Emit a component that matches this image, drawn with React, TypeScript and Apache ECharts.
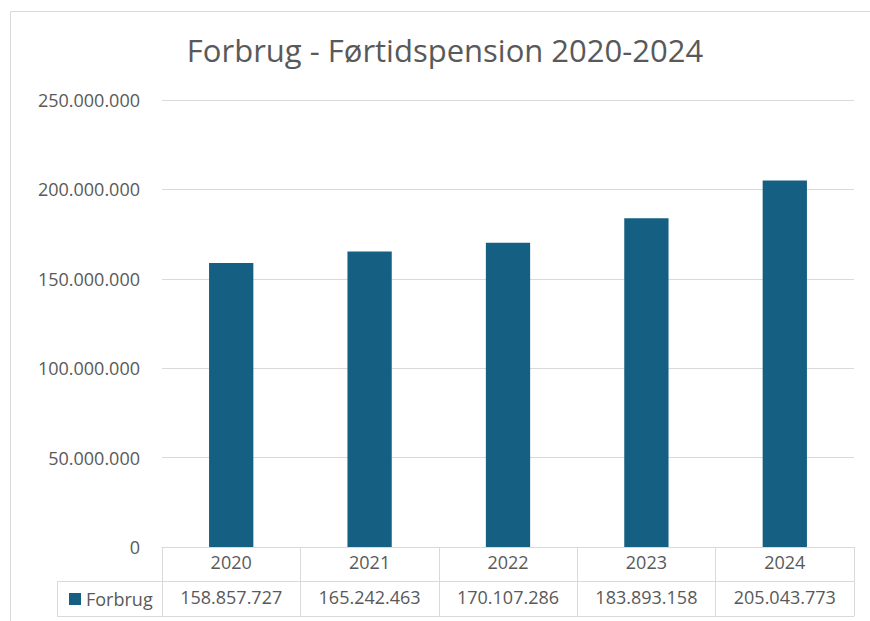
import React, { useEffect, useRef } from "react";
import * as echarts from "echarts";

const titleText = "Forbrug - Førtidspension 2020-2024";
const seriesName = "Forbrug";
const years = ["2020", "2021", "2022", "2023", "2024"];
const values = [158857727, 165242463, 170107286, 183893158, 205043773];
const yMin = 0;
const yMax = 250000000;
const yStep = 50000000;

const fmt = (n: number | string) =>
  String(n).replace(/\B(?=(\d{3})+(?!\d))/g, ".");

const FONT = "Open Sans";
const TXT = "#595959";
const LINE = "#d9d9d9";
const BAR = "#156082";

export default function App() {
  const ref = useRef<HTMLDivElement>(null);
  useEffect(() => {
    document.body.style.margin = "0";
    const chart = echarts.init(ref.current!, null, { renderer: "svg" });
    const gridLeft = 162;
    const gridRight = 16;
    const gridTop = 100;
    const gridBottom = 74;
    const axisY = 621 - gridBottom;
    chart.setOption({
      animation: false,
      backgroundColor: "#ffffff",
      textStyle: { fontFamily: FONT },
      grid: { left: gridLeft, right: gridRight, top: gridTop, bottom: gridBottom, containLabel: false },
      legend: {
        data: [seriesName],
        left: 64,
        top: 585,
        icon: "rect",
        itemWidth: 12,
        itemHeight: 12,
        itemGap: 6,
        textStyle: { color: TXT, fontSize: 18, fontFamily: FONT },
      },
      xAxis: [
        {
          type: "category",
          data: years,
          position: "bottom",
          axisLine: { show: true, lineStyle: { color: LINE, width: 1 } },
          axisTick: { show: true, length: 69, lineStyle: { color: LINE, width: 1 } },
          axisLabel: { color: TXT, fontSize: 18, fontFamily: FONT, margin: 6 },
          splitLine: { show: false },
        },
        {
          type: "category",
          data: values.map(fmt),
          position: "bottom",
          offset: 34,
          axisLine: { show: true, lineStyle: { color: LINE, width: 1 } },
          axisTick: { show: false },
          axisLabel: { color: TXT, fontSize: 18, fontFamily: FONT, margin: 7 },
          splitLine: { show: false },
        },
        {
          type: "category",
          data: years,
          position: "bottom",
          offset: 69,
          axisLine: { show: true, lineStyle: { color: LINE, width: 1 } },
          axisTick: { show: false },
          axisLabel: { show: false },
          splitLine: { show: false },
        },
      ],
      yAxis: {
        type: "value",
        min: yMin,
        max: yMax,
        interval: yStep,
        axisLine: { show: false },
        axisTick: { show: false },
        axisLabel: {
          color: TXT,
          fontSize: 18,
          fontFamily: FONT,
          margin: 22,
          formatter: (v: number) => fmt(v),
        },
        splitLine: { show: true, lineStyle: { color: LINE, width: 1 } },
      },
      series: [
        {
          name: seriesName,
          type: "bar",
          xAxisIndex: 0,
          data: values,
          barWidth: "32%",
          itemStyle: { color: BAR },
        },
      ],
      graphic: [
        {
          type: "rect",
          shape: { x: 10.5, y: 11.5, width: 900, height: 700 },
          style: { fill: "none", stroke: LINE, lineWidth: 1 },
          silent: true,
          z: -1,
        },
        {
          type: "text",
          x: 445,
          y: 50,
          style: {
            text: titleText,
            fill: TXT,
            fontSize: 31,
            fontFamily: FONT,
            textAlign: "center",
            textVerticalAlign: "middle",
          },
        },
        {
          type: "line",
          shape: { x1: 57.5, y1: axisY + 34.5, x2: gridLeft, y2: axisY + 34.5 },
          style: { stroke: LINE, lineWidth: 1 },
        },
        {
          type: "line",
          shape: { x1: 57.5, y1: axisY + 69.5, x2: gridLeft, y2: axisY + 69.5 },
          style: { stroke: LINE, lineWidth: 1 },
        },
        {
          type: "line",
          shape: { x1: 57.5, y1: axisY + 34.5, x2: 57.5, y2: axisY + 69.5 },
          style: { stroke: LINE, lineWidth: 1 },
        },
      ],
    });
    return () => chart.dispose();
  }, []);
  return (
    <div
      ref={ref}
      style={{ position: "absolute", left: 0, top: 0, width: 870, height: 621 }}
    />
  );
}
